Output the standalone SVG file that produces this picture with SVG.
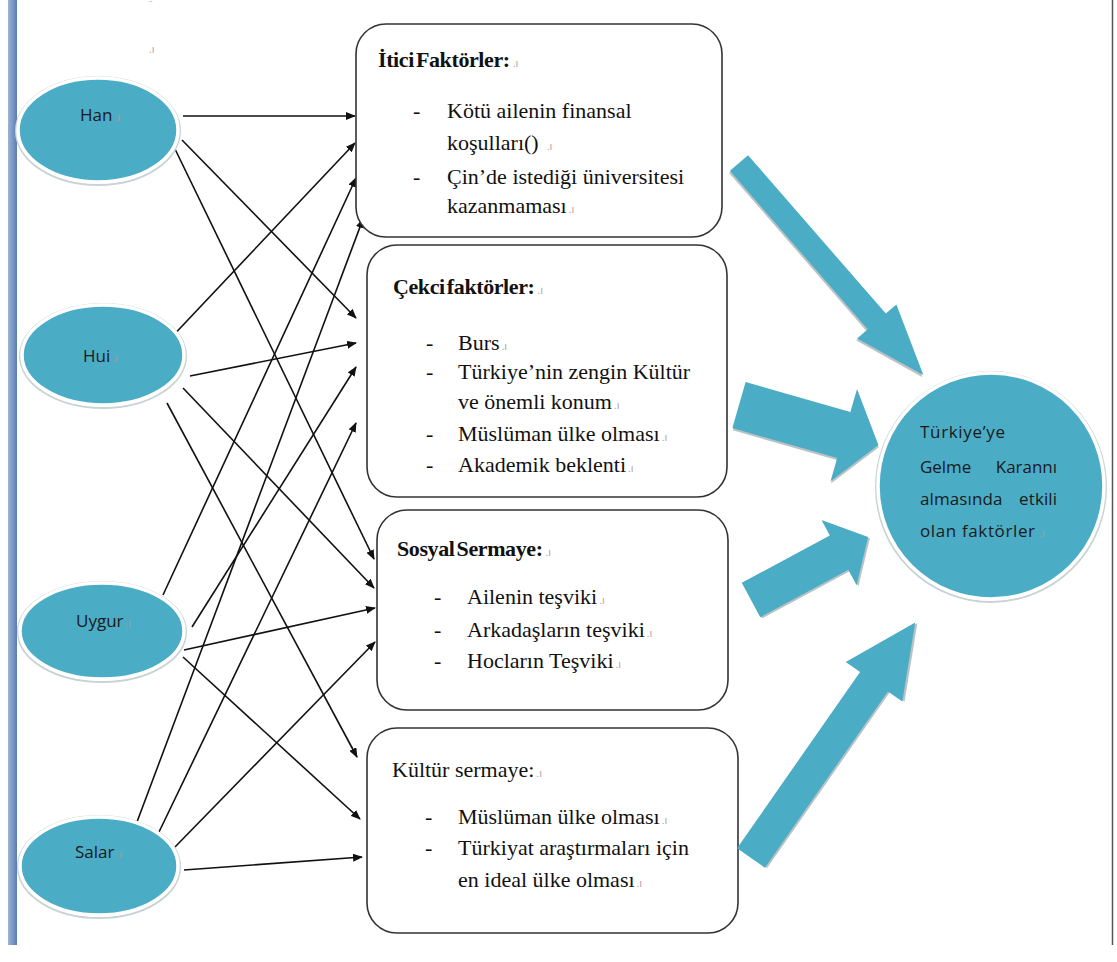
<svg xmlns="http://www.w3.org/2000/svg" width="1117" height="962" viewBox="0 0 1117 962">
<defs>
<style>
.box{fill:#fff;stroke:#333;stroke-width:1.6}
.t{font-family:"Liberation Serif","Times New Roman",serif;font-size:22px;fill:#111}
.tb{font-family:"Liberation Serif","Times New Roman",serif;font-size:22px;font-weight:bold;fill:#111;letter-spacing:-0.4px;word-spacing:-3px}
.s{font-family:"Open Sans","Liberation Sans",sans-serif;font-size:17px;fill:#1a1a1a}
.m{font-family:"Liberation Sans",sans-serif;font-size:10px;font-weight:normal;fill:#b09a9a;letter-spacing:0;word-spacing:0}
.node{fill:#4bacc6;stroke:#fff;stroke-width:3.5}
.halo{fill:none;stroke:#c9d3d6;stroke-width:2}
.con{stroke:#111;stroke-width:1.6;fill:none;marker-end:url(#ah)}
.blk{fill:#4bacc6}
.shd{fill:#8a9a9e;opacity:0.6}
</style>
<marker id="ah" markerWidth="10" markerHeight="8" refX="9" refY="4" orient="auto" markerUnits="userSpaceOnUse">
<path d="M0,0 L10,4 L0,8 z" fill="#111"/>
</marker>
<linearGradient id="bar" x1="0" x2="1" y1="0" y2="0">
<stop offset="0" stop-color="#9db3d6"/>
<stop offset="1" stop-color="#5a7cb3"/>
</linearGradient>
</defs>

<rect x="8" y="0" width="9" height="945" fill="url(#bar)"/>
<line x1="1112.5" y1="0" x2="1112.5" y2="945" stroke="#555" stroke-width="1.5"/>
<text class="m" x="149" y="9">¨</text>
<text class="m" x="149" y="53">.ı</text>

<g id="connectors">
<line class="con" x1="183" y1="116" x2="355" y2="116"/>
<line class="con" x1="182" y1="140" x2="356" y2="318"/>
<line class="con" x1="175" y1="149" x2="374" y2="559"/>
<line class="con" x1="168" y1="341" x2="355" y2="143"/>
<line class="con" x1="190" y1="376" x2="356" y2="343"/>
<line class="con" x1="183" y1="388" x2="374" y2="588"/>
<line class="con" x1="167" y1="403" x2="357" y2="757"/>
<line class="con" x1="163" y1="595" x2="356" y2="178"/>
<line class="con" x1="192" y1="627" x2="356" y2="367"/>
<line class="con" x1="184" y1="650" x2="375" y2="608"/>
<line class="con" x1="183" y1="657" x2="360" y2="819"/>
<line class="con" x1="137" y1="822" x2="363" y2="219"/>
<line class="con" x1="159" y1="832" x2="356" y2="423"/>
<line class="con" x1="175" y1="847" x2="375" y2="642"/>
<line class="con" x1="184" y1="870" x2="362" y2="857"/>
</g>

<g id="han">
<ellipse class="halo" cx="98" cy="131" rx="82" ry="54"/>
<ellipse class="node" cx="98" cy="130" rx="80" ry="52"/>
<text class="s" x="80" y="121">Han<tspan class="m" dx="2">.ı</tspan></text>
</g>
<g id="hui">
<ellipse class="halo" cx="103" cy="356" rx="83" ry="52"/>
<ellipse class="node" cx="103" cy="355" rx="81" ry="50"/>
<text class="s" x="83" y="362">Hui<tspan class="m" dx="2">.ı</tspan></text>
</g>
<g id="uygur">
<ellipse class="halo" cx="102" cy="632" rx="84" ry="50"/>
<ellipse class="node" cx="102" cy="631" rx="82" ry="48"/>
<text class="s" x="76" y="627">Uygur<tspan class="m" dx="2">.ı</tspan></text>
</g>
<g id="salar">
<ellipse class="halo" cx="99" cy="867" rx="81" ry="51"/>
<ellipse class="node" cx="99" cy="866" rx="79" ry="49"/>
<text class="s" x="75" y="858">Salar<tspan class="m" dx="2">.ı</tspan></text>
</g>

<g id="box-itici">
<rect class="box" x="356" y="24" width="366" height="213" rx="30"/>
<text class="tb" x="378" y="67">İtici Faktörler:<tspan class="m" dx="3">.ı</tspan></text>
<text class="t" x="413" y="118">-</text><text class="t" x="447" y="118">Kötü ailenin finansal</text>
<text class="t" x="447" y="150">koşulları()<tspan class="m" dx="8">.ı</tspan></text>
<text class="t" x="413" y="184">-</text><text class="t" x="447" y="184">Çin’de istediği üniversitesi</text>
<text class="t" x="447" y="213">kazanmaması<tspan class="m" dx="2">.ı</tspan></text>
</g>

<g id="box-cekci">
<rect class="box" x="367" y="245" width="360" height="252" rx="30"/>
<text class="tb" x="393" y="294">Çekci faktörler:<tspan class="m" dx="3">.ı</tspan></text>
<text class="t" x="426" y="350">-</text><text class="t" x="458" y="350">Burs<tspan class="m" dx="2">.ı</tspan></text>
<text class="t" x="426" y="379">-</text><text class="t" x="458" y="379">Türkiye’nin zengin Kültür</text>
<text class="t" x="458" y="409">ve önemli konum<tspan class="m" dx="2">.ı</tspan></text>
<text class="t" x="426" y="441">-</text><text class="t" x="458" y="441">Müslüman ülke olması<tspan class="m" dx="2">.ı</tspan></text>
<text class="t" x="426" y="472">-</text><text class="t" x="458" y="472">Akademik beklenti<tspan class="m" dx="2">.ı</tspan></text>
</g>

<g id="box-sosyal">
<rect class="box" x="377" y="510" width="351" height="200" rx="30"/>
<text class="tb" x="397" y="556">Sosyal Sermaye:<tspan class="m" dx="3">.ı</tspan></text>
<text class="t" x="434" y="604">-</text><text class="t" x="467" y="604">Ailenin teşviki<tspan class="m" dx="2">.ı</tspan></text>
<text class="t" x="434" y="637">-</text><text class="t" x="467" y="637">Arkadaşların teşviki<tspan class="m" dx="2">.ı</tspan></text>
<text class="t" x="434" y="668">-</text><text class="t" x="467" y="668">Hocların Teşviki<tspan class="m" dx="2">.ı</tspan></text>
</g>

<g id="box-kultur">
<rect class="box" x="367" y="728" width="371" height="205" rx="30"/>
<text class="t" x="392" y="777">Kültür sermaye:<tspan class="m" dx="2">.ı</tspan></text>
<text class="t" x="425" y="824">-</text><text class="t" x="458" y="824">Müslüman ülke olması<tspan class="m" dx="2">.ı</tspan></text>
<text class="t" x="425" y="855">-</text><text class="t" x="458" y="855">Türkiyat araştırmaları için</text>
<text class="t" x="458" y="887">en ideal ülke olması<tspan class="m" dx="2">.ı</tspan></text>
</g>

<g id="block-arrows">
<g transform="translate(739,163) rotate(49)">
<polygon class="shd" transform="translate(1,2)" points="0,-12 210,-12 210,-26 281,0 210,26 210,12 0,12"/>
<polygon class="blk" points="0,-12 210,-12 210,-26 281,0 210,26 210,12 0,12"/>
</g>
<g transform="translate(739,405) rotate(16)">
<polygon class="shd" transform="translate(1,2)" points="0,-24 109,-24 109,-48 145,0 109,48 109,24 0,24"/>
<polygon class="blk" points="0,-24 109,-24 109,-48 145,0 109,48 109,24 0,24"/>
</g>
<g transform="translate(751,600) rotate(-28.3)">
<polygon class="shd" transform="translate(1,2)" points="0,-19.5 100,-19.5 100,-37 133,0 100,37 100,19.5 0,19.5"/>
<polygon class="blk" points="0,-19.5 100,-19.5 100,-37 133,0 100,37 100,19.5 0,19.5"/>
</g>
<g transform="translate(751,858) rotate(-55.1)">
<polygon class="shd" transform="translate(1,2)" points="0,-17 215,-17 215,-34.5 287,0 215,34.5 215,17 0,17"/>
<polygon class="blk" points="0,-17 215,-17 215,-34.5 287,0 215,34.5 215,17 0,17"/>
</g>
</g>

<g id="target">
<circle cx="991" cy="487" r="115" fill="none" stroke="#c9d3d6" stroke-width="2"/>
<circle cx="991" cy="486" r="113" fill="#4bacc6" stroke="#fff" stroke-width="3.5"/>
<text class="s" x="920" y="438" textLength="85" lengthAdjust="spacing">Türkiye’ye</text>
<text class="s" x="920" y="473" textLength="137" lengthAdjust="spacing" word-spacing="20">Gelme Karannı</text>
<text class="s" x="920" y="505" textLength="137" lengthAdjust="spacing" word-spacing="12">almasında etkili</text>
<text class="s" x="920" y="537" textLength="115" lengthAdjust="spacing">olan faktörler</text><text class="m" x="1039" y="537">.ı</text>
</g>
</svg>
